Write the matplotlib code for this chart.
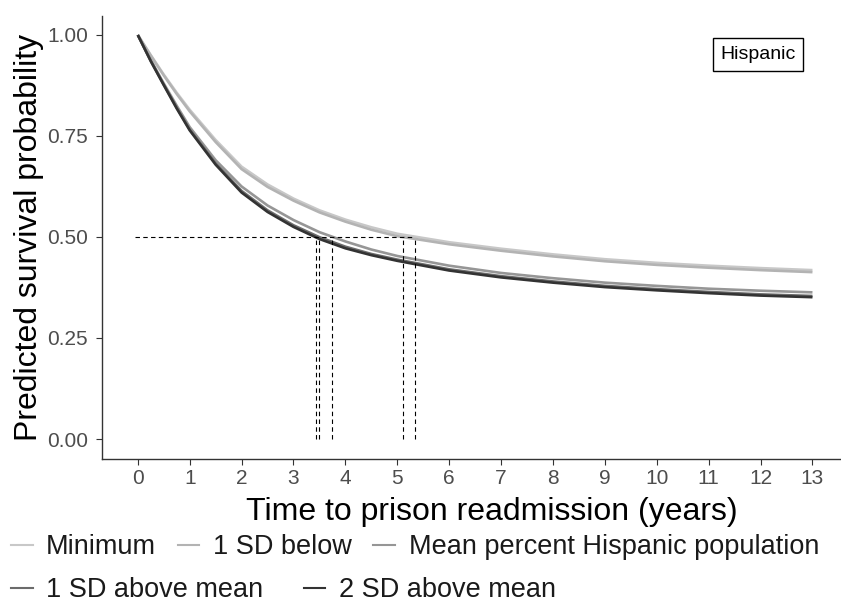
import matplotlib
matplotlib.use('Agg')
import matplotlib.pyplot as plt
from matplotlib.lines import Line2D

plt.rcParams['font.family'] = ['Liberation Sans', 'DejaVu Sans']

# predicted survival by county Hispanic population level
years = [0, 0.25, 0.5, 0.75, 1, 1.5, 2, 2.5, 3, 3.5, 4, 4.5, 5, 6, 7, 8, 9, 10, 11, 12, 13]
surv_min = [1.0, 0.950, 0.902, 0.857, 0.815, 0.740, 0.674, 0.630, 0.595, 0.566, 0.543, 0.524, 0.508, 0.487, 0.471, 0.457, 0.445, 0.436, 0.429, 0.423, 0.418]
surv_1sd_below = [1.0, 0.949, 0.900, 0.854, 0.811, 0.735, 0.668, 0.624, 0.590, 0.561, 0.538, 0.518, 0.502, 0.482, 0.466, 0.452, 0.440, 0.431, 0.424, 0.418, 0.413]
surv_mean = [1.0, 0.938, 0.880, 0.825, 0.772, 0.690, 0.625, 0.578, 0.542, 0.512, 0.489, 0.469, 0.453, 0.429, 0.411, 0.398, 0.387, 0.379, 0.372, 0.367, 0.363]
surv_1sd_above = [1.0, 0.936, 0.877, 0.820, 0.766, 0.682, 0.614, 0.566, 0.529, 0.4995, 0.476, 0.458, 0.444, 0.420, 0.403, 0.390, 0.379, 0.371, 0.364, 0.358, 0.354]
surv_2sd_above = [1.0, 0.935, 0.876, 0.818, 0.764, 0.679, 0.610, 0.562, 0.525, 0.495, 0.472, 0.455, 0.441, 0.417, 0.400, 0.387, 0.376, 0.368, 0.361, 0.355, 0.351]

labels = ['Minimum', '1 SD below', 'Mean percent Hispanic population',
          '1 SD above mean', '2 SD above mean']
colors = ['#c8c8c8', '#b3b3b3', '#969696', '#6b6b6b', '#333333']
median_times = [5.34, 5.11, 3.74, 3.49, 3.43]
x_ticks = list(range(0, 14))
y_ticks = [0.0, 0.25, 0.5, 0.75, 1.0]

fig = plt.figure(figsize=(8.41, 6.08), dpi=100)
ax = fig.add_axes([102 / 841, 149 / 608, 739 / 841, 443 / 608])

series = [surv_min, surv_1sd_below, surv_mean, surv_1sd_above, surv_2sd_above]
for vals, col, lab in zip(series, colors, labels):
    ax.plot(years, vals, color=col, lw=1.9, label=lab, solid_capstyle='butt')

# median survival reference lines
ax.plot([-0.05, max(median_times)], [0.5, 0.5], color='black', lw=0.8, ls=(0, (4, 3)))
for m in median_times:
    ax.plot([m, m], [0, 0.5], color='black', lw=0.8, ls=(0, (4, 3)))

ax.set_xlim(-0.69, 13.55)
ax.set_ylim(-0.0495, 1.047)
ax.set_xticks(x_ticks)
ax.set_yticks(y_ticks)
ax.set_yticklabels(['0.00', '0.25', '0.50', '0.75', '1.00'])
ax.tick_params(colors='#333333', labelcolor='#4d4d4d', labelsize=15, length=4, width=0.8)
ax.tick_params(axis='y', pad=6)
for s in ['top', 'right']:
    ax.spines[s].set_visible(False)
for s in ['left', 'bottom']:
    ax.spines[s].set_color('#333333')
    ax.spines[s].set_linewidth(1.0)

ax.set_xlabel('Time to prison readmission (years)', fontsize=23, labelpad=5)
ax.xaxis.set_label_coords(0.528, -0.085)
ax.set_ylabel('Predicted survival probability', fontsize=23, labelpad=2)

ax.text(11.95, 0.952, 'Hispanic', fontsize=14, ha='center', va='center',
        bbox=dict(boxstyle='square,pad=0.4', fc='white', ec='black', lw=1))

# legend in two rows
handles = [Line2D([0], [0], color=c, lw=1.5) for c in colors]
leg1 = fig.legend(handles[:3], labels[:3], loc='center left', bbox_to_anchor=(0.0, 1 - 547 / 608),
                  ncol=3, frameon=False, fontsize=19.5, handlelength=0.8,
                  handletextpad=0.5, columnspacing=0.8, borderaxespad=0)
leg2 = fig.legend(handles[3:], labels[3:], loc='center left', bbox_to_anchor=(0.0, 1 - 590 / 608),
                  ncol=2, frameon=False, fontsize=19.5, handlelength=0.8,
                  handletextpad=0.5, columnspacing=1.5, borderaxespad=0)
for leg in (leg1, leg2):
    for t in leg.get_texts():
        t.set_color('#1a1a1a')

fig.savefig('out.png', dpi=100)
